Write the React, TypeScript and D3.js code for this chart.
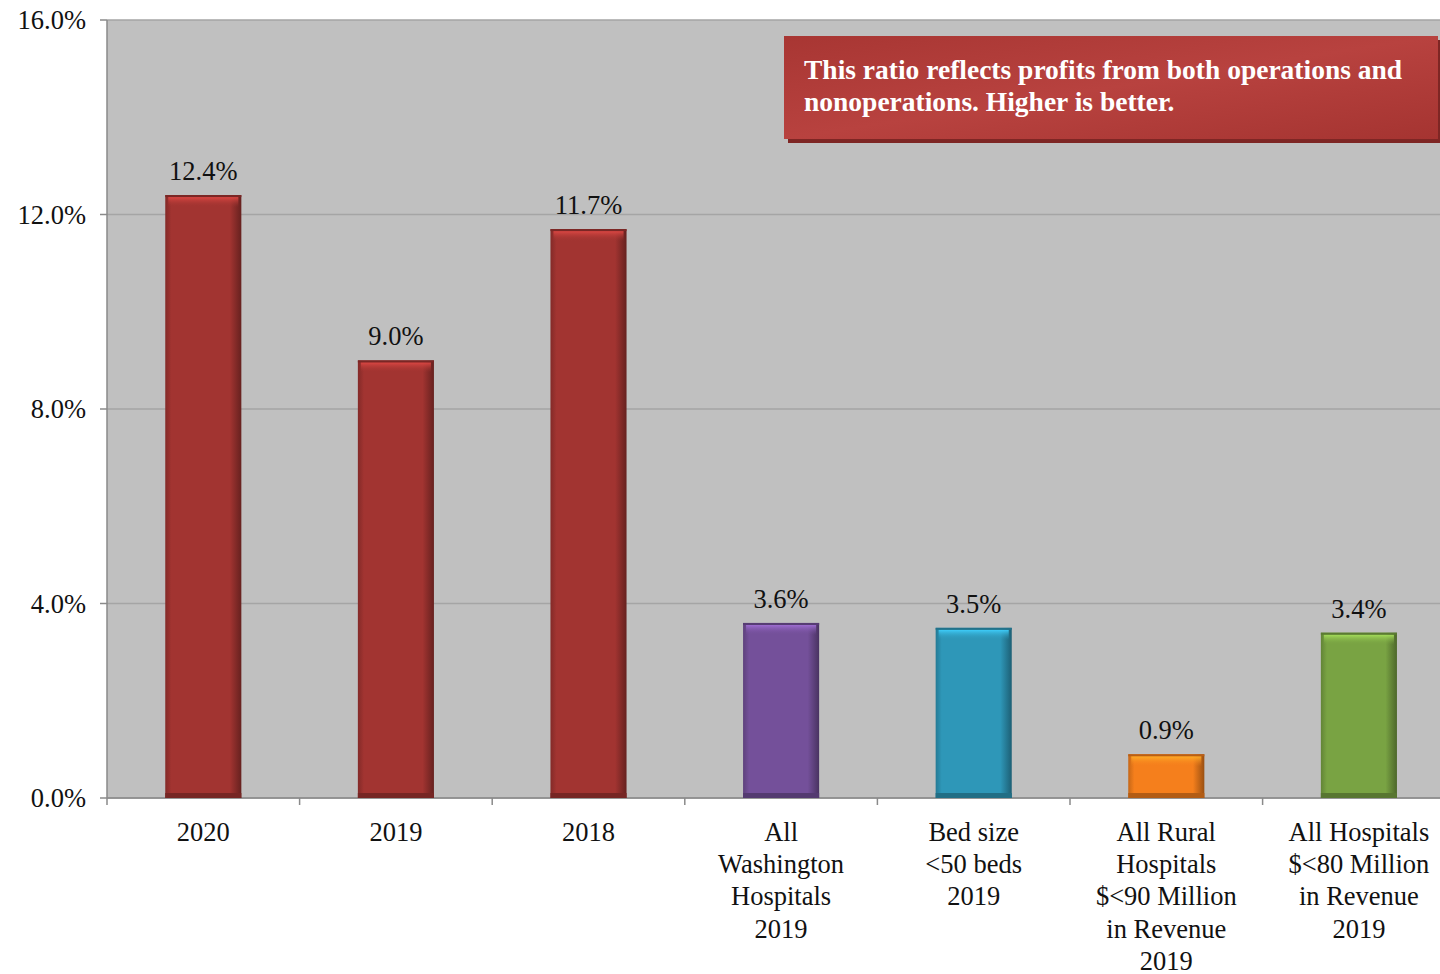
import React from "react";
import * as d3 from "d3";

const categories: string[][] = [
  ["2020"],
  ["2019"],
  ["2018"],
  ["All", "Washington", "Hospitals", "2019"],
  ["Bed size", "<50 beds", "2019"],
  ["All Rural", "Hospitals", "$<90 Million", "in Revenue", "2019"],
  ["All Hospitals", "$<80 Million", "in Revenue", "2019"],
];
const values: number[] = [12.4, 9.0, 11.7, 3.6, 3.5, 0.9, 3.4];
const barColors: string[] = ["#a23431", "#a23431", "#a23431", "#74509a", "#2e97b8", "#f57f1c", "#79a343"];
const yTicks: number[] = [0, 4, 8, 12, 16];
const noteLines: string[] = [
  "This ratio reflects profits from both operations and",
  "nonoperations. Higher is better.",
];

const W = 1440;
const H = 974;
const left = 107;
const top = 20;
const bottom = 798;
const bandW = 192.6;

export default function App() {
  const ids = categories.map((_, i) => String(i));
  const x = d3
    .scaleBand<string>()
    .domain(ids)
    .range([left, left + bandW * ids.length])
    .paddingInner(0.605)
    .paddingOuter(0.3025);
  const y = d3.scaleLinear().domain([0, 16]).range([bottom, top]);
  const font = "'Liberation Serif', 'Times New Roman', serif";
  const bw = x.bandwidth();
  const fs = 26.5;

  return (
    <svg
      width={W}
      height={H}
      style={{ position: "absolute", left: 0, top: 0, background: "#fff" }}
      fontFamily={font}
    >
      <defs>
        {barColors.map((c, i) => {
          const cc = d3.color(c)!;
          return (
            <linearGradient key={i} id={`g${i}`} x1="0" x2="1" y1="0" y2="0">
              <stop offset="0" stopColor={d3.color(c)!.darker(0.6).toString()} />
              <stop offset="0.08" stopColor={c} />
              <stop offset="0.85" stopColor={c} />
              <stop offset="1" stopColor={cc.darker(1.3).toString()} />
            </linearGradient>
          );
        })}
        {barColors.map((c, i) => (
          <linearGradient key={"t" + i} id={`t${i}`} x1="0" x2="0" y1="0" y2="1">
            <stop offset="0" stopColor={d3.color(c)!.brighter(0.9).toString()} stopOpacity={0.95} />
            <stop offset="1" stopColor={c} stopOpacity={0} />
          </linearGradient>
        ))}
        <linearGradient id="note" x1="0" x2="1" y1="0" y2="1">
          <stop offset="0" stopColor="#a83633" />
          <stop offset="0.5" stopColor="#b8423f" />
          <stop offset="1" stopColor="#a53431" />
        </linearGradient>
      </defs>

      {/* plot background */}
      <rect x={left} y={top} width={W - left} height={bottom - top} fill="#c0c0c0" />

      {/* grid */}
      {yTicks.map((t) => (
        <line key={t} x1={left} x2={W} y1={y(t)} y2={y(t)} stroke="#a5a5a5" strokeWidth={1.5} />
      ))}

      {/* y axis */}
      <line x1={left} x2={left} y1={top} y2={bottom} stroke="#8a8a8a" strokeWidth={1.5} />
      {yTicks.map((t) => (
        <g key={t}>
          <line x1={left - 7} x2={left} y1={y(t)} y2={y(t)} stroke="#8a8a8a" strokeWidth={1.5} />
          <text x={86} y={y(t)} dy="0.35em" textAnchor="end" fontSize={fs} fill="#111">
            {t.toFixed(1) + "%"}
          </text>
        </g>
      ))}

      {/* x axis */}
      <line x1={left} x2={W} y1={bottom} y2={bottom} stroke="#8a8a8a" strokeWidth={1.5} />
      {ids.concat(["end"]).map((id, i) => {
        const xx = left + bandW * i;
        return <line key={id} x1={xx} x2={xx} y1={bottom} y2={bottom + 7} stroke="#8a8a8a" strokeWidth={1.5} />;
      })}

      {/* bars */}
      {values.map((v, i) => {
        const bx = x(ids[i])!;
        const by = y(v);
        const bh = y(0) - by;
        const c = barColors[i];
        return (
          <g key={i}>
            <rect x={bx} y={by} width={bw} height={bh} fill={`url(#g${i})`} />
            <rect x={bx + 3} y={by + 2} width={bw - 6} height={Math.min(10, bh / 3)} fill={`url(#t${i})`} />
            <rect x={bx} y={by} width={bw} height={2} fill={d3.color(c)!.darker(0.8).toString()} />
            <rect x={bx} y={y(0) - 5} width={bw} height={5} fill={d3.color(c)!.darker(0.9).toString()} />
            <text x={bx + bw / 2} y={by - 15} textAnchor="middle" fontSize={fs} fill="#111">
              {v.toFixed(1) + "%"}
            </text>
          </g>
        );
      })}

      {/* category labels */}
      {categories.map((lines, i) => (
        <text key={i} x={x(ids[i])! + bw / 2} y={841} textAnchor="middle" fontSize={fs} fill="#111">
          {lines.map((l, j) => (
            <tspan key={j} x={x(ids[i])! + bw / 2} dy={j === 0 ? 0 : 32.2}>
              {l}
            </tspan>
          ))}
        </text>
      ))}

      {/* note box */}
      <rect x={788} y={40} width={W - 788} height={103} fill="#7e2624" />
      <rect x={784} y={36} width={W - 784 - 2} height={103} fill="url(#note)" />
      {noteLines.map((l, j) => (
        <text key={j} x={804} y={79 + j * 32} fontSize={27.5} fontWeight="bold" fill="#fff">
          {l}
        </text>
      ))}
    </svg>
  );
}
